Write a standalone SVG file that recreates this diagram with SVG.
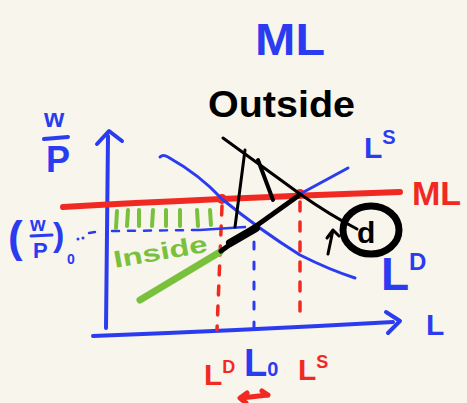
<svg xmlns="http://www.w3.org/2000/svg" width="467" height="403" viewBox="0 0 467 403">
<style>
.b{stroke:#2b3cf0;fill:none;stroke-linecap:round;stroke-linejoin:round}
.r{stroke:#f02a22;fill:none;stroke-linecap:round;stroke-linejoin:round}
.k{stroke:#000;fill:none;stroke-linecap:round;stroke-linejoin:round}
.g{stroke:#79c13c;fill:none;stroke-linecap:round;stroke-linejoin:round}
text{font-family:"Liberation Sans",Arial,sans-serif;font-weight:bold}
.tb{fill:#2b3cf0}.tr{fill:#f02a22}.tk{fill:#000}.tg{fill:#79c13c}
</style>
<rect width="467" height="403" fill="#f8f5ec"/>
<g id="connectors">
<path class="b" stroke-width="4" d="M106 328 L108 136"/>
<path class="b" stroke-width="4" d="M97 144 L109 131 L122 141"/>
<path class="b" stroke-width="4" d="M93 336 Q250 330 393 322"/>
<path class="b" stroke-width="4" d="M386 312 L400 321 L388 333"/>
<path class="r" stroke-width="6" d="M63 207 Q200 199 400 192"/>
<circle cx="222" cy="199" r="5" fill="#f02a22"/>
<circle cx="300" cy="194" r="5" fill="#f02a22"/>
<path class="r" stroke-width="3.5" stroke-dasharray="9 11" d="M222 206 L217 330"/>
<path class="r" stroke-width="3.5" stroke-dasharray="9 11" d="M300 202 L300 320"/>
<path class="b" stroke-width="3" stroke-dasharray="7 13" d="M254 242 L254 330"/>
<path class="b" stroke-width="2.5" stroke-dasharray="7 9" d="M112 231 L200 230"/>
<path class="b" stroke-width="2.5" d="M200 230 L245 227"/>
<circle cx="78" cy="239" r="1.5" fill="#2b3cf0"/>
<circle cx="83" cy="238" r="1.5" fill="#2b3cf0"/>
<path class="b" stroke-width="2.5" d="M89 233 L95 232"/>
<path class="b" stroke-width="3" d="M160 157 Q163 154 168 157 Q200 175 222 199 Q260 230 300 255 Q330 270 355 278"/>
<path class="b" stroke-width="3" d="M300 194 L348 168"/>
<path class="g" stroke-width="7" d="M140 300 L220 252"/>
<path class="k" stroke-width="5" d="M221 251 L298 196"/>
<path class="k" stroke-width="8" d="M230 243 L256 228"/>
<g class="g" stroke-width="4">
<path d="M117 211 L116 228"/><path d="M128 210 L127 226"/><path d="M139 210 L139 226"/><path d="M153 210 L152 226"/><path d="M166 210 L166 226"/><path d="M180 210 L180 226"/><path d="M197 210 L198 226"/><path d="M210 210 L211 225"/>
</g>
<path class="k" stroke-width="3" d="M223 138 Q260 165 300 194 Q330 215 357 229"/>
<path class="k" stroke-width="3" d="M245 150 L235 227"/>
<path class="k" stroke-width="4" d="M258 160 L273 200"/>
<path class="k" stroke-width="3" d="M328 254 L333 230 M327 238 L333 230 L339 236"/>
<path class="r" stroke-width="5" d="M241 398 L268 395 M247 393 L240 398 L246 403 M262 391 L268 395"/>
</g>
<g id="title"><text class="tb" x="290" y="55" font-size="44" text-anchor="middle" textLength="70" lengthAdjust="spacingAndGlyphs">ML</text></g>
<g id="outside"><text class="tk" x="208" y="117" font-size="36" textLength="147" lengthAdjust="spacingAndGlyphs">Outside</text></g>
<g id="label-LS"><text class="tb" x="364" y="158" font-size="30">L<tspan font-size="20" dy="-14">S</tspan></text></g>
<g id="label-ML"><text class="tr" x="412" y="205" font-size="34">ML</text></g>
<g id="label-L"><text class="tb" x="426" y="335" font-size="30">L</text></g>
<g id="label-LD"><text class="tb" x="381" y="290" font-size="46">L<tspan font-size="24" dy="-20">D</tspan></text></g>
<g id="inside"><text class="tg" x="115" y="268" font-size="24" transform="rotate(-10 115 268)" textLength="95" lengthAdjust="spacingAndGlyphs">Inside</text></g>
<g id="circle-d"><ellipse cx="371" cy="230" rx="28" ry="24" fill="none" stroke="#000" stroke-width="7"/><text class="tk" x="357" y="243" font-size="30">d</text></g>
<g id="axis-wp"><text class="tb" x="44" y="127" font-size="26">w</text><path class="b" stroke-width="4" d="M44 139 L68 137"/><text class="tb" x="46" y="172" font-size="36">P</text></g>
<g id="label-wp0"><text class="tb" x="8" y="252" font-size="44">(</text><text class="tb" x="30" y="231" font-size="20">w</text><path class="b" stroke-width="3" d="M31 236 L52 235"/><text class="tb" x="33" y="258" font-size="22">P</text><text class="tb" x="53" y="246" font-size="34">)</text><text class="tb" x="67" y="264" font-size="14">0</text></g>
<g id="bottom-labels">
<text class="tr" x="204" y="385" font-size="30">L<tspan font-size="18" dy="-12">D</tspan></text>
<text class="tb" x="244" y="376" font-size="38">L<tspan font-size="20" dy="0">0</tspan></text>
<text class="tr" x="298" y="380" font-size="30">L<tspan font-size="18" dy="-12">S</tspan></text>
</g>
</svg>
